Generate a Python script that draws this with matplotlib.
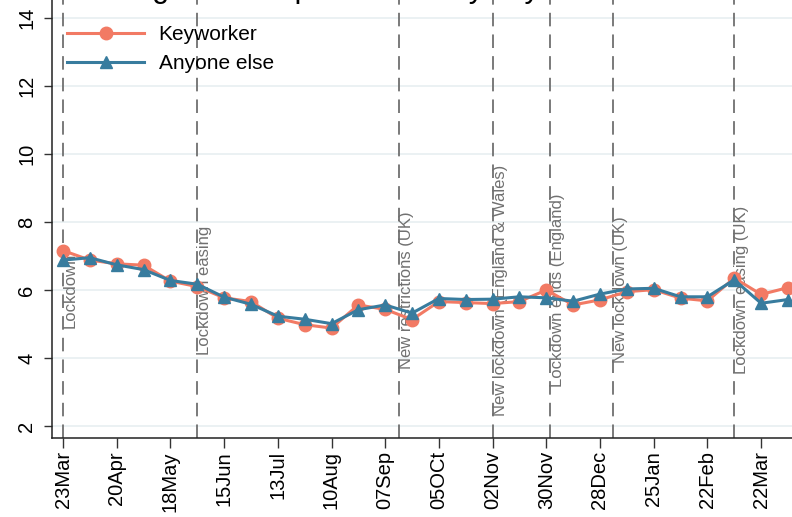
import numpy as np
import pandas as pd
import matplotlib
matplotlib.use("Agg")
import matplotlib.pyplot as plt
import matplotlib.dates as mdates

plt.rcParams['font.family'] = ['Liberation Sans', 'DejaVu Sans']

# fortnightly survey waves
start = pd.Timestamp('2020-03-23')
waves = pd.date_range(start, periods=28, freq='14D')

keyworker = [7.16, 6.88, 6.77, 6.73, 6.26, 6.10, 5.77, 5.66, 5.17, 4.98, 4.88, 5.56,
             5.43, 5.13, 5.66, 5.63, 5.60, 5.66, 6.00, 5.56, 5.71, 5.95, 6.01, 5.76,
             5.68, 6.35, 5.87, 6.07]
anyone_else = [6.88, 6.95, 6.74, 6.60, 6.28, 6.17, 5.79, 5.58, 5.23, 5.14, 5.01, 5.42,
               5.56, 5.32, 5.75, 5.72, 5.73, 5.80, 5.77, 5.67, 5.88, 6.03, 6.05, 5.80,
               5.80, 6.30, 5.61, 5.72]

tick_labels = ['23Mar', '20Apr', '18May', '15Jun', '13Jul', '10Aug', '07Sep',
               '05OCt', '02Nov', '30Nov', '28Dec', '25Jan', '22Feb', '22Mar']

events = ['Lockdown', 'Lockdown easing', 'New restrictions (UK)',
          'New lockdown (England & Wales)', 'Lockdown ends (England)',
          'New lockdown (UK)', 'Lockdown easing (UK)']
event_dates = pd.to_datetime(['2020-03-23', '2020-06-01', '2020-09-14', '2020-11-02',
                              '2020-12-02', '2021-01-04', '2021-03-08'])

c_key = '#F27A64'
c_else = '#387C9E'
c_event = '#707070'

W, H = 792, 517
fig = plt.figure(figsize=(W / 100, H / 100), dpi=100)
# axes run past the top and right edges of the canvas
left, bottom, right, top = 52, 79, 800, 527
ax = fig.add_axes([left / W, bottom / H, (right - left) / W, (top - bottom) / H])

x0 = mdates.date2num(start)
px_per_day = 53.7 / 28
ax.set_xlim(x0 - (63 - left) / px_per_day, x0 + (right - 63) / px_per_day)
ax.set_ylim(6 - (438 - 290) / 34, 6 + (290 + 10) / 34)

ax.yaxis.grid(True, color='#E9F0F2', linewidth=1.3)
ax.set_axisbelow(True)

for d, name in zip(event_dates, events):
    ax.axvline(d, color=c_event, linewidth=1.3, dashes=(7.5, 4.5), zorder=1)
    ax.text(d, 6, name, rotation=90, ha='left', va='center', fontsize=12,
            color=c_event, zorder=2)

ax.plot(waves, keyworker, color=c_key, linewidth=2.2, marker='o', markersize=9,
        label='Keyworker', zorder=3)
ax.plot(waves, anyone_else, color=c_else, linewidth=2.2, marker='^', markersize=9,
        label='Anyone else', zorder=4)

ticks = pd.date_range(start, periods=len(tick_labels), freq='28D')
ax.set_xticks(ticks)
ax.set_xticklabels(tick_labels, rotation=90, fontsize=14.5)
ax.set_yticks(np.arange(2, 15, 2))
ax.set_yticklabels([str(v) for v in range(2, 15, 2)], rotation=90, va='center',
                   fontsize=14.5)
ax.tick_params(axis='x', length=7, width=1, pad=2.5, color='#333333')
ax.tick_params(axis='y', length=6, width=1, pad=5.5, color='#333333')

for s in ['top', 'right']:
    ax.spines[s].set_visible(False)
for s in ['left', 'bottom']:
    ax.spines[s].set_color('#222222')
    ax.spines[s].set_linewidth(1.1)

ax.legend(loc='upper left', bbox_to_anchor=(67 / W, 1 - 25 / H),
          bbox_transform=fig.transFigure, frameon=False, fontsize=15,
          handlelength=3.7, handletextpad=0.7, labelspacing=0.5,
          borderpad=0, borderaxespad=0)

fig.text(73 / W, (H + 3) / H, 'Average hours spent online by keyworker status',
         fontsize=22, ha='left', va='baseline', color='black')

fig.savefig('out.png', dpi=100)
